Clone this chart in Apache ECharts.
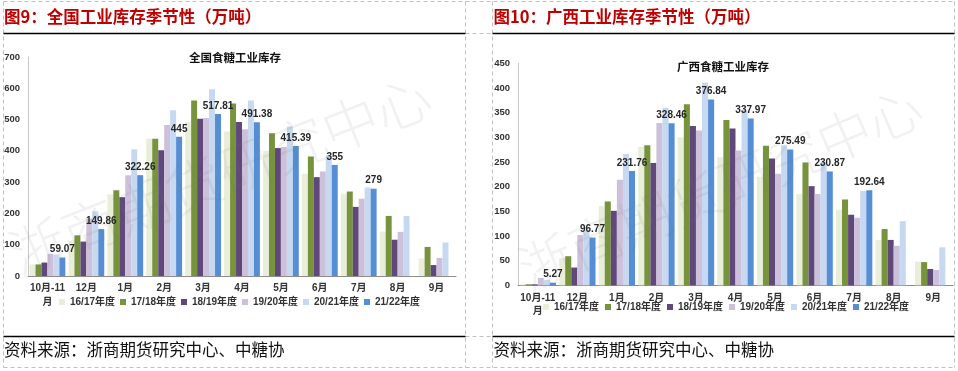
<!DOCTYPE html>
<html>
<head>
<meta charset="utf-8">
<script src="https://cdn.jsdelivr.net/npm/echarts@6/dist/echarts.min.js"></script>
<style>
html,body{margin:0;padding:0;background:#fff;}
#c{width:958px;height:371px;}
</style>
</head>
<body>
<div id="c"></div>
<script>
// ---- data ----
const categories = ['10月-11月','12月','1月','2月','3月','4月','5月','6月','7月','8月','9月'];
const seasons = ['16/17年度','17/18年度','18/19年度','19/20年度','20/21年度','21/22年度'];
const nationalTicks = [0,100,200,300,400,500,600,700];
const guangxiTicks = [0,50,100,150,200,250,300,350,400,450];

// 全国食糖工业库存
const nat1617 = [37, 114, 261, 439, 492, 462, 400, 327, 263, 142, 56];
const nat1718 = [37, 130, 274, 439, 561, 551, 456, 382, 270, 192, 93];
const nat1819 = [43, 110, 252, 402, 503, 492, 409, 316, 221, 116, 35];
const nat1920 = [71, 183, 322, 483, 505, 469, 412, 334, 247, 141, 58];
const nat2021 = [69, 207, 405, 530, 597, 561, 478, 386, 283, 192, 107];
const nat2122 = [59.07, 149.86, 322.26, 445, 517.81, 491.38, 415.39, 355, 279, null, null];

// 广西食糖工业库存
const gx1617 = [2, 55, 161, 281, 300, 259, 220, 185, 153, 92, 48];
const gx1718 = [2, 59, 170, 284, 367, 335, 283, 249, 174, 114, 47];
const gx1819 = [2, 36, 151, 248, 323, 318, 257, 201, 143, 92, 33];
const gx1920 = [15, 102, 214, 329, 314, 273, 226, 185, 137, 80, 31];
const gx2021 = [11, 112, 266, 360, 411, 355, 284, 250, 191, 130, 77];
const gx2122 = [5.27, 96.77, 231.76, 328.46, 376.84, 337.97, 275.49, 230.87, 192.64, null, null];

// ---- styles ----
const colors = ['#e8eed9','#77933c','#60497a','#ccc0da','#c6d9f1','#558ed5'];
const FONT = '"Liberation Sans", "Noto Sans CJK SC", sans-serif';
const CJK = '"Noto Sans CJK SC", sans-serif';

const natData = [nat1617, nat1718, nat1819, nat1920, nat2021, nat2122];
const gxData = [gx1617, gx1718, gx1819, gx1920, gx2021, gx2122];

function makeSeries(dataArr, idx) {
  return dataArr.map((d, i) => ({
    name: seasons[i],
    type: 'bar',
    xAxisIndex: idx,
    yAxisIndex: idx,
    data: d,
    barGap: '0%',
    barCategoryGap: '8%',
    itemStyle: { color: colors[i] },
    label: i === 5 ? {
      show: true, position: 'top', distance: 3,
      fontFamily: FONT, fontSize: 10, fontWeight: 'bold', color: '#262626'
    } : { show: false },
    emphasis: { disabled: true },
    animation: false
  }));
}

function xAxis(idx, margin, lh) {
  return {
    type: 'category', gridIndex: idx, data: categories,
    axisLine: { lineStyle: { color: '#8c8c8c', width: 1 } },
    axisTick: { show: false },
    axisLabel: {
      interval: 0, margin: margin, fontFamily: FONT, fontSize: 10, fontWeight: 'bold',
      color: '#333', lineHeight: lh,
      formatter: v => v === '10月-11月' ? '10月-11\n月' : v
    }
  };
}
function yAxis(idx, ticks) {
  return {
    type: 'value', gridIndex: idx, min: ticks[0], max: ticks[ticks.length - 1],
    interval: ticks[1] - ticks[0],
    axisLine: { show: true, lineStyle: { color: '#c8c8c8' } },
    axisTick: { show: false },
    splitLine: { show: false },
    axisLabel: { margin: 8, fontFamily: FONT, fontSize: 9.5, fontWeight: 'bold', color: '#333' }
  };
}
function legend(left, top, w) {
  return {
    data: seasons, left: left, top: top, padding: 0, orient: 'horizontal',
    icon: 'rect', itemWidth: 6, itemHeight: 6, itemGap: 3,
    selectedMode: false,
    textStyle: { fontFamily: FONT, fontSize: 10, fontWeight: 'bold', color: '#333', width: w, lineHeight: 12 }
  };
}

const dash = { stroke: '#c0c0c0', lineWidth: 1, lineDash: [4, 3] };
const solid = { stroke: '#000', lineWidth: 1.6 };
function line(x1, y1, x2, y2, style, z) {
  return { type: 'line', shape: { x1, y1, x2, y2 }, style: style, z: z || 1, silent: true };
}
function text(x, y, t, font, fill, align, z, extra) {
  return Object.assign({
    type: 'text', x: x, y: y, z: z || 5, silent: true,
    style: { text: t, font: font, fill: fill, textAlign: align || 'left', textVerticalAlign: 'middle' }
  }, extra || {});
}

const graphics = [
  // dashed table borders
  line(3.5, 1.5, 954.5, 1.5, dash),
  line(3.5, 367.5, 954.5, 367.5, dash),
  line(465.5, 33.5, 492.5, 33.5, dash),
  line(465.5, 336.5, 492.5, 336.5, dash),
  line(3.5, 1.5, 3.5, 367.5, dash),
  line(465.5, 1.5, 465.5, 367.5, dash),
  line(492.5, 1.5, 492.5, 367.5, dash),
  line(954.5, 1.5, 954.5, 367.5, dash),
  // solid black rules
  line(3.5, 33.5, 465.5, 33.5, solid, 2),
  line(492.5, 33.5, 954.5, 33.5, solid, 2),
  line(3.5, 336.5, 465.5, 336.5, solid, 2),
  line(492.5, 336.5, 954.5, 336.5, solid, 2),
  // headings
  text(4, 17, '图9：全国工业库存季节性（万吨）', 'bold 16.5px ' + CJK, '#c00000'),
  text(493.5, 17, '图10：广西工业库存季节性（万吨）', 'bold 16.5px ' + CJK, '#c00000'),
  // sources
  text(4, 350, '资料来源：浙商期货研究中心、中糖协', 'normal 16.5px ' + CJK, '#111'),
  text(493.5, 350, '资料来源：浙商期货研究中心、中糖协', 'normal 16.5px ' + CJK, '#111'),
  // inner chart titles
  text(235, 57.5, '全国食糖工业库存', 'bold 11.5px ' + CJK, '#111', 'center'),
  text(723, 66.5, '广西食糖工业库存', 'bold 11.5px ' + CJK, '#111', 'center'),
  // watermarks
  text(220, 175, '浙商期货研究中心', '300 56px ' + CJK, 'rgba(120,120,120,0.10)', 'center', 10, { rotation: 21.5 * Math.PI / 180 }),
  text(720, 188, '浙商期货研究中心', '300 54px ' + CJK, 'rgba(120,120,120,0.10)', 'center', 10, { rotation: 23 * Math.PI / 180 })
];

const chart = echarts.init(document.getElementById('c'), null, { renderer: 'canvas' });
chart.setOption({
  animation: false,
  backgroundColor: '#fff',
  grid: [
    { left: 28, top: 57, width: 428, height: 219, containLabel: false },
    { left: 518, top: 63.3, width: 435, height: 222, containLabel: false }
  ],
  xAxis: [xAxis(0, 5, 14), xAxis(1, 6, 13)],
  yAxis: [yAxis(0, nationalTicks), yAxis(1, guangxiTicks)],
  legend: [legend(59, 296, 47), legend(543, 301, 48)],
  series: makeSeries(natData, 0).concat(makeSeries(gxData, 1)),
  graphic: graphics
});
</script>
</body>
</html>
